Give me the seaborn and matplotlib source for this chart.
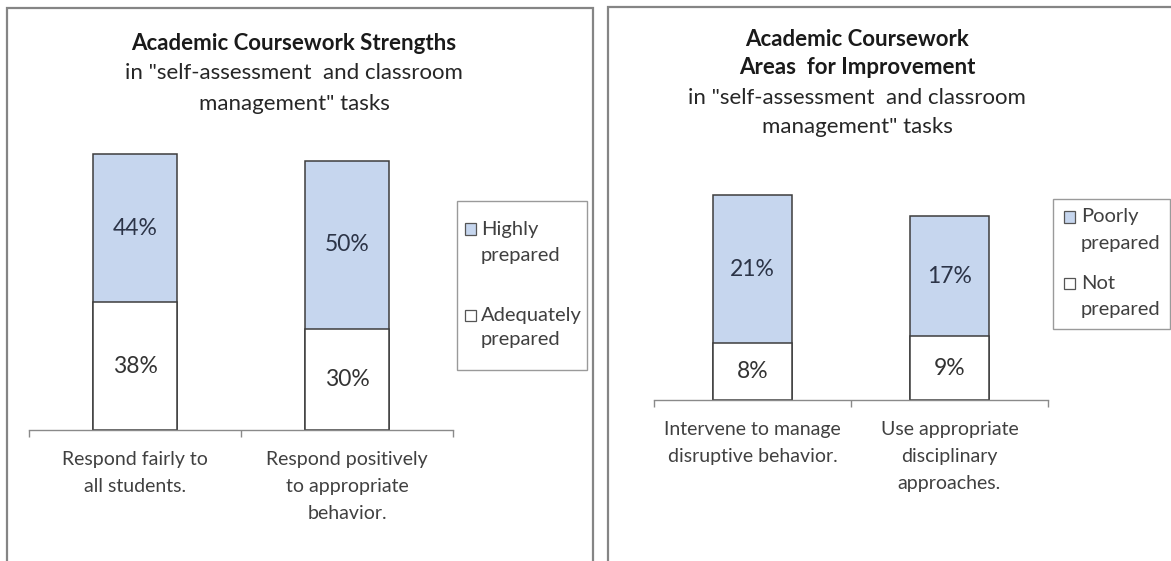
import matplotlib
matplotlib.use("Agg")
import matplotlib.pyplot as plt
from matplotlib.patches import Rectangle
import pandas as pd
import seaborn as sns

# ---- data -------------------------------------------------------------
strength_tasks = ["Respond fairly to\nall students.",
                  "Respond positively\nto appropriate\nbehavior."]
strength_adequate = [38, 30]
strength_high = [44, 50]
strength_series = ["Highly\nprepared", "Adequately\nprepared"]

improve_tasks = ["Intervene to manage\ndisruptive behavior.",
                 "Use appropriate\ndisciplinary\napproaches."]
improve_not = [8, 9]
improve_poor = [21, 17]
improve_series = ["Poorly\nprepared", "Not\nprepared"]

left_title = ["Academic Coursework Strengths"]
right_title = ["Academic Coursework", "Areas  for Improvement"]
subtitle = ['in "self-assessment  and classroom', 'management" tasks']

# ---- style ------------------------------------------------------------
sns.set_theme(style="white")
plt.rcParams["font.family"] = ["Lato", "DejaVu Sans"]

BLUE = "#C6D6EE"
EDGE = "#3d3d3d"
GRID = "#8a8a8a"
TXT = "#333333"

W, H = 1171, 561
fig = plt.figure(figsize=(W / 100, H / 100), dpi=100)
fig.patch.set_facecolor("white")


def px_axes(left, top, right, bottom):
    return fig.add_axes([left / W, 1 - bottom / H, (right - left) / W, (bottom - top) / H])


def frame(left, top, right, bottom):
    fig.patches.append(Rectangle((left / W, 1 - bottom / H), (right - left) / W,
                                 (bottom - top) / H, transform=fig.transFigure,
                                 fill=False, edgecolor="#858585", linewidth=1.6))


def stacked(ax, tasks, lower, upper, ymax):
    df = pd.DataFrame({"task": tasks, "lower": lower, "upper": upper})
    df["total"] = df["lower"] + df["upper"]
    sns.barplot(data=df, x="task", y="total", color=BLUE, saturation=1, width=0.4,
                edgecolor=EDGE, linewidth=1.1, ax=ax)
    sns.barplot(data=df, x="task", y="lower", color="white", saturation=1, width=0.4,
                edgecolor=EDGE, linewidth=1.1, ax=ax)
    for i, row in df.iterrows():
        ax.text(i, row["lower"] / 2, f"{row['lower']}%", ha="center", va="center",
                fontsize=16.5, color=TXT)
        ax.text(i, row["lower"] + row["upper"] / 2, f"{row['upper']}%", ha="center",
                va="center", fontsize=16.5, color="#2c3447")
    ax.set_xlim(-0.5, 1.5)
    ax.set_ylim(0, ymax)
    ax.set_xlabel("")
    ax.set_ylabel("")
    ax.set_yticks([])
    for s in ("top", "left", "right"):
        ax.spines[s].set_visible(False)
    ax.spines["bottom"].set_color(GRID)
    ax.spines["bottom"].set_linewidth(1.0)
    ax.set_xticks([0, 1])
    ax.set_xticklabels(tasks, fontsize=14, color="#404040", linespacing=1.72)
    ax.tick_params(axis="x", which="major", length=0, pad=15)
    ax.set_xticks([-0.5, 0.5, 1.5], minor=True)
    ax.tick_params(axis="x", which="minor", length=5, width=1.0, color=GRID,
                   direction="out", bottom=True)
    ax.set_facecolor("none")


def legend_box(box, entries, fills, sq_x, txt_x, line_ys):
    l, t, r, b = box
    fig.patches.append(Rectangle((l / W, 1 - b / H), (r - l) / W, (b - t) / H,
                                 transform=fig.transFigure, facecolor="white",
                                 edgecolor="#9a9a9a", linewidth=1.0))
    for label, fill, ys in zip(entries, fills, line_ys):
        s = 11
        fig.patches.append(Rectangle((sq_x / W, 1 - (ys[0] + s / 2) / H), s / W, s / H,
                                     transform=fig.transFigure, facecolor=fill,
                                     edgecolor="#555555", linewidth=0.9))
        for part, y in zip(label.split("\n"), ys):
            fig.text(txt_x / W, 1 - y / H, part, ha="left", va="center",
                     fontsize=14.5, color="#404040")


# ---- panel frames -----------------------------------------------------
frame(7, 8, 593, 580)
frame(608, 7, 1190, 580)

# ---- left panel -------------------------------------------------------
scale_l = 276 / 82
ax1 = px_axes(29, 430 - 90 * scale_l, 453, 430)
stacked(ax1, strength_tasks, strength_adequate, strength_high, 90)
fig.text(294 / W, 1 - 43 / H, left_title[0], ha="center", va="center",
         fontsize=16, fontweight="bold", color="#1a1a1a")
for txt, y in zip(subtitle, [73, 104]):
    fig.text(294 / W, 1 - y / H, txt, ha="center", va="center", fontsize=16, color="#262626")
legend_box((457, 201, 587, 370), strength_series, [BLUE, "white"], 465, 481,
           [[229, 256], [315, 340]])

# ---- right panel ------------------------------------------------------
scale_r = 205 / 29
ax2 = px_axes(654, 400 - 35 * scale_r, 1048, 400)
stacked(ax2, improve_tasks, improve_not, improve_poor, 35)
for txt, y in zip(right_title, [39, 68]):
    fig.text(857 / W, 1 - y / H, txt, ha="center", va="center",
             fontsize=16, fontweight="bold", color="#1a1a1a")
for txt, y in zip(subtitle, [97.5, 127]):
    fig.text(857 / W, 1 - y / H, txt, ha="center", va="center", fontsize=16, color="#262626")
legend_box((1053, 199, 1170, 329), improve_series, [BLUE, "white"], 1064, 1081,
           [[217, 244], [283, 309]])

fig.savefig("out.png", dpi=100, facecolor="white")
